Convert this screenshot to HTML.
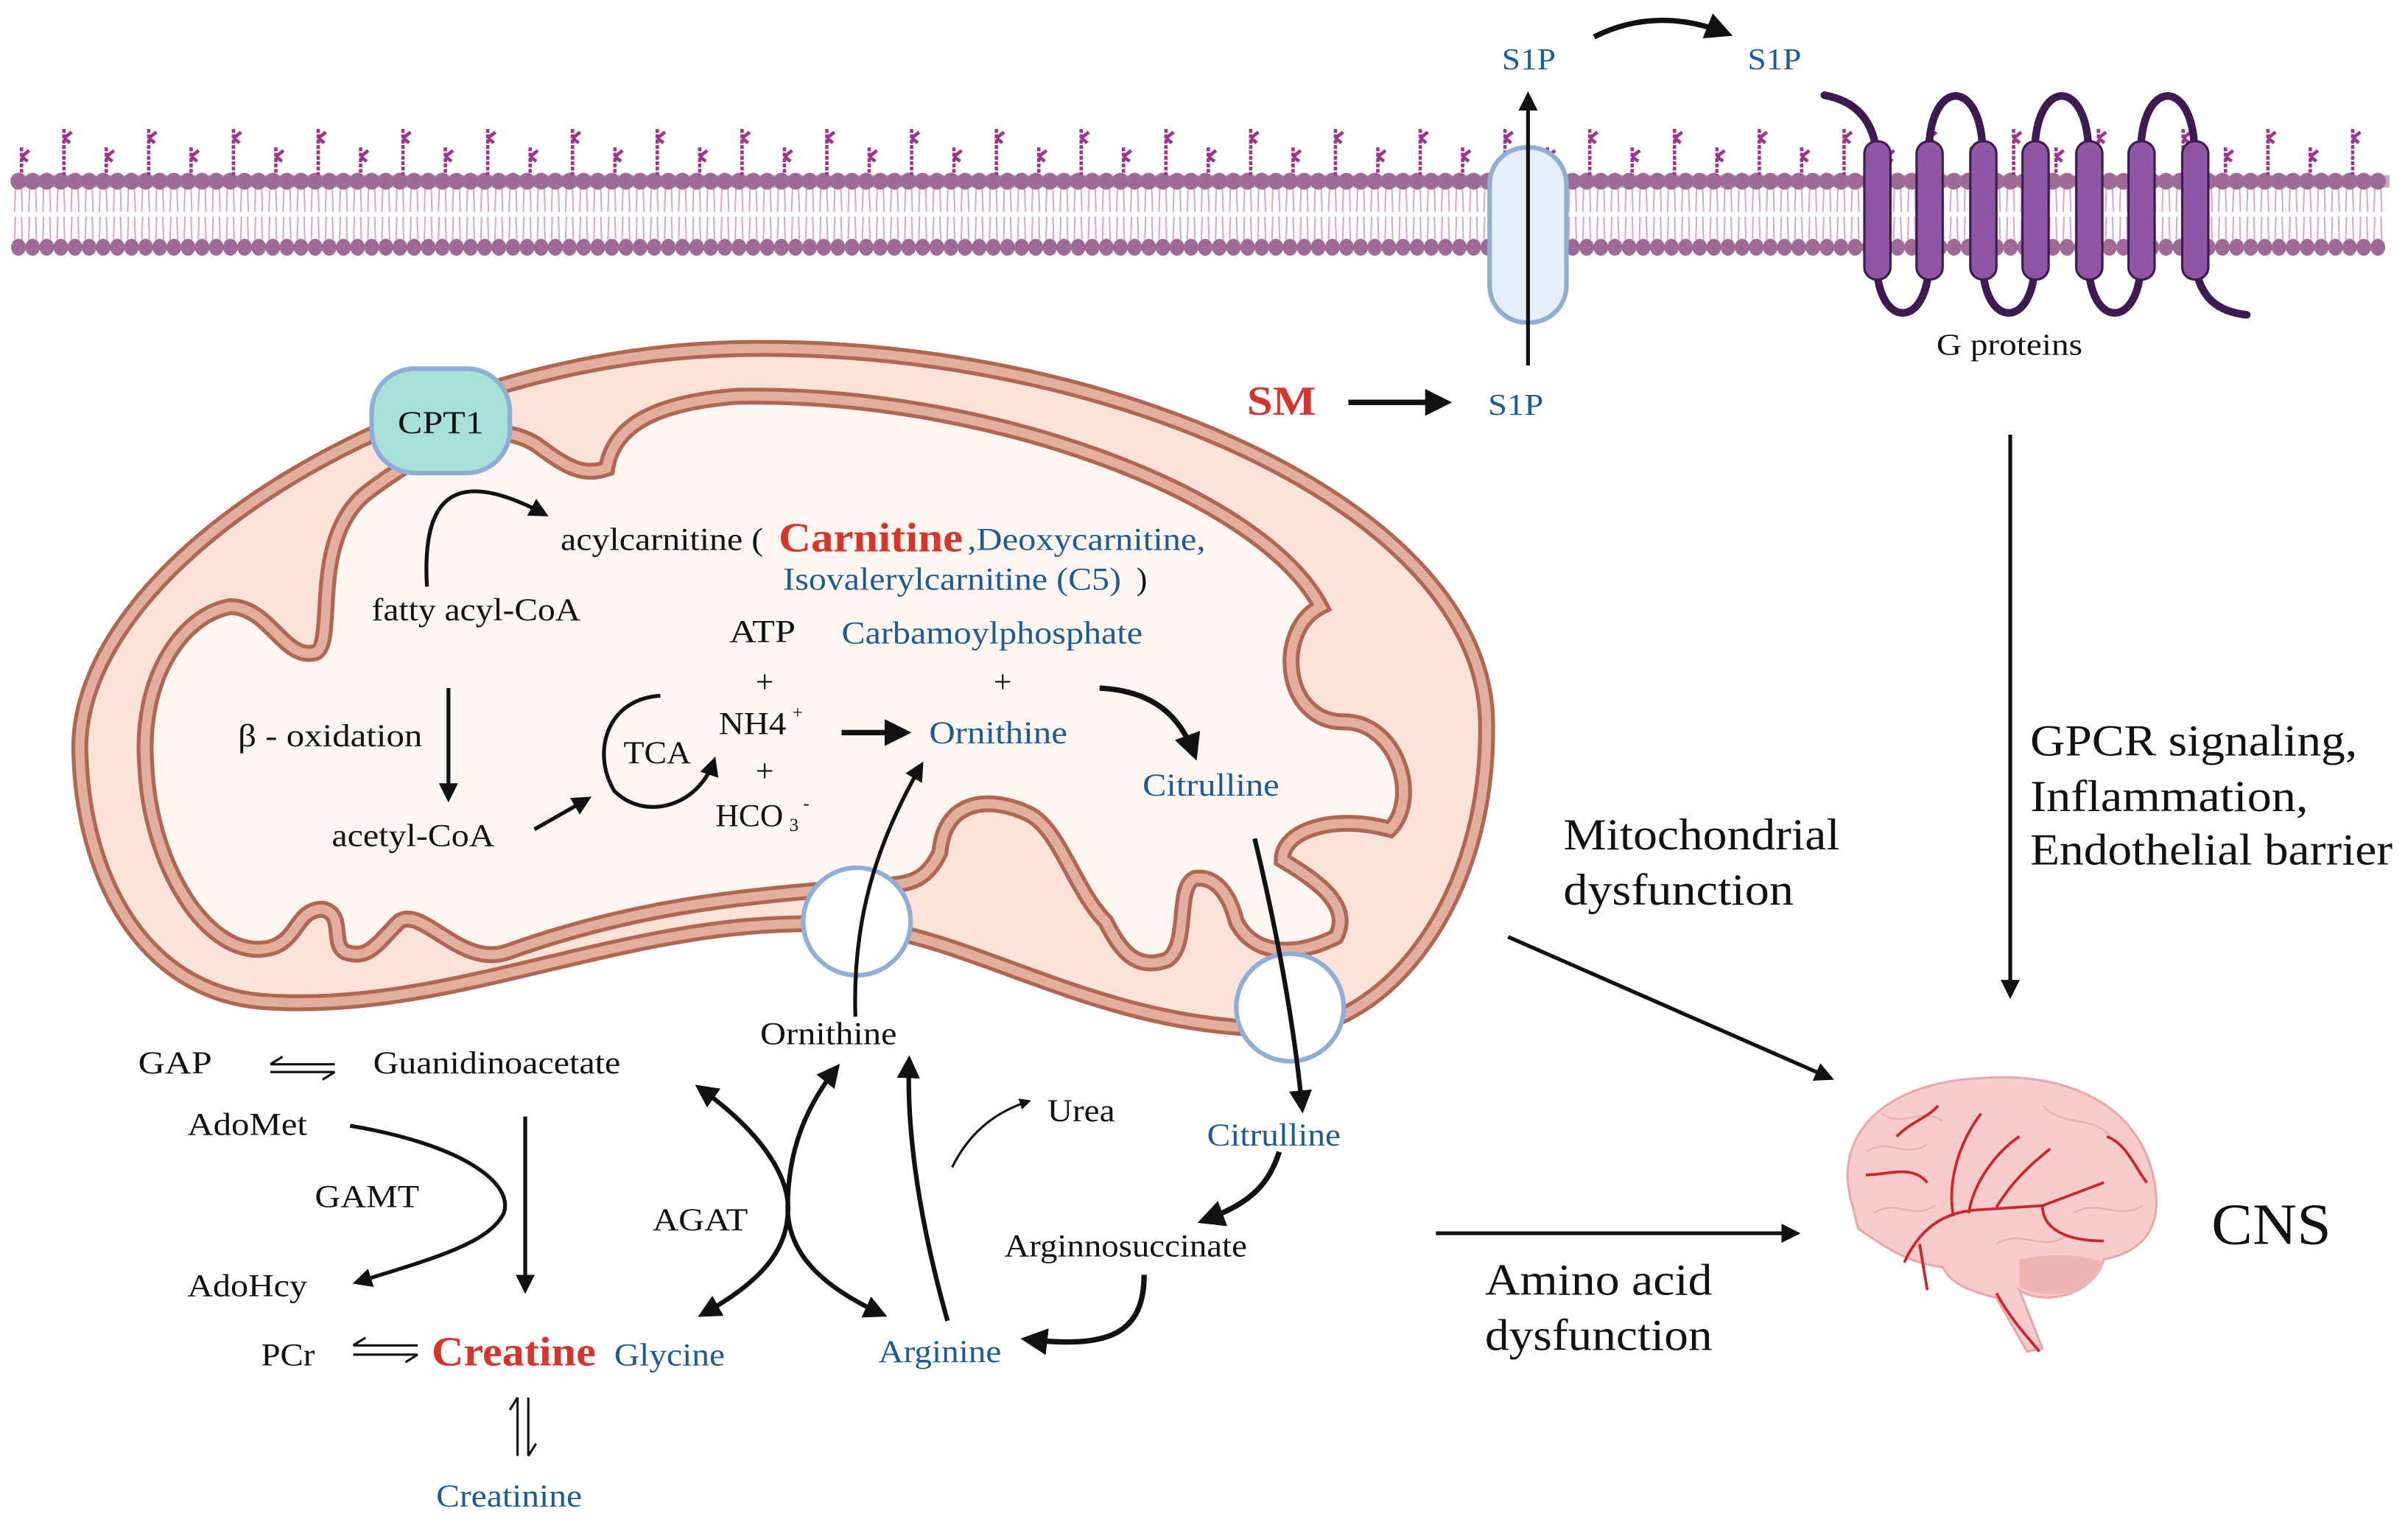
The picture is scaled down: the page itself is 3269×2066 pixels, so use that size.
<!DOCTYPE html>
<html><head><meta charset="utf-8"><style>
html,body{margin:0;padding:0;background:#fff;width:3269px;height:2066px;overflow:hidden}
svg{display:block}
svg text{font-family:"Liberation Serif","Times New Roman",serif}
.k{fill:#111}.b{fill:#1c5b96}.r{fill:#d8342b;font-weight:bold}
</style></head><body>
<svg id="s" width="3269" height="2066" viewBox="0 0 1568 991" xmlns="http://www.w3.org/2000/svg" font-family="Liberation Serif, serif">
<defs>
<marker id="a" viewBox="0 0 10 10" refX="8" refY="5" markerWidth="5" markerHeight="5" orient="auto-start-reverse"><path d="M0,0L10,5L0,10z" fill="#111"/></marker>
<path id="om" d="M52,490 C48,370 260,232 480,227 C720,222 966,330 968,470 C970,590 900,668 840,670 C720,672 640,612 560,603 C420,590 300,662 170,652 C92,645 54,570 52,490 Z"/>
<path id="im" d="M95,500 C90,440 120,400 150,395 C175,395 185,430 205,425 C220,420 200,350 240,320 C280,290 320,270 350,290 C370,305 380,310 395,305 C400,275 430,262 480,258 C640,255 820,320 860,395 C830,410 835,470 875,470 C910,470 925,520 905,540 C870,530 835,540 835,560 C860,575 880,590 870,610 C840,625 815,620 805,600 C800,580 790,570 778,572 C765,578 775,615 760,625 C740,632 730,620 720,600 C700,580 690,540 670,530 C645,518 615,520 612,555 C600,580 585,575 555,578 C460,585 400,595 330,620 C300,630 275,590 260,600 C245,615 240,625 225,620 C215,615 225,595 210,592 C190,592 195,620 165,618 C130,615 98,560 95,500 Z"/>
</defs>
<g id="mem"></g>
<rect x="970" y="96" width="50" height="114" rx="24" fill="#e6f0fa" stroke="#8eaed6" stroke-width="3"/>
<g fill="none" stroke="#3e1a52" stroke-width="5" stroke-linecap="round">
<path d="M1188,62 C1210,66 1220,80 1222,100"/>
<path d="M1256,100 C1256,50 1291,50 1291,100"/>
<path d="M1325,100 C1325,50 1360,50 1360,100"/>
<path d="M1394,100 C1394,50 1429,50 1429,100"/>
<path d="M1222,170 C1222,215 1256,215 1256,170"/>
<path d="M1291,170 C1291,215 1325,215 1325,170"/>
<path d="M1360,170 C1360,215 1394,215 1394,170"/>
<path d="M1429,170 C1432,195 1445,203 1463,205"/>
</g>
<g fill="#8f56a3" stroke="#3e1a52" stroke-width="1.5">
<rect x="1214" y="92" width="17" height="90" rx="8"/><rect x="1248" y="92" width="17" height="90" rx="8"/><rect x="1283" y="92" width="17" height="90" rx="8"/><rect x="1317" y="92" width="17" height="90" rx="8"/><rect x="1352" y="92" width="17" height="90" rx="8"/><rect x="1386" y="92" width="17" height="90" rx="8"/><rect x="1421" y="92" width="17" height="90" rx="8"/>
</g>
<g lengthAdjust="spacingAndGlyphs">
<text x="1261" y="231" font-size="20" class="k" textLength="95" lengthAdjust="spacingAndGlyphs">G proteins</text>
<text x="978" y="45" font-size="20" class="b" textLength="35" lengthAdjust="spacingAndGlyphs">S1P</text>
<text x="1138" y="45" font-size="20" class="b" textLength="35" lengthAdjust="spacingAndGlyphs">S1P</text>
</g>
<path d="M1038,24 C1070,8 1100,12 1125,22" fill="none" stroke="#111" stroke-width="3.5" marker-end="url(#a)"/>
<line x1="995" y1="238" x2="995" y2="62" stroke="#111" stroke-width="2.5" marker-end="url(#a)"/>

<use href="#om" fill="#fbe3da" stroke="#b06650" stroke-width="11"/>
<use href="#om" fill="none" stroke="#e2ae9e" stroke-width="6"/>
<use href="#im" fill="#fff5f1" stroke="#b06650" stroke-width="11"/>
<use href="#im" fill="none" stroke="#e2ae9e" stroke-width="6"/>
<rect x="242" y="240" width="90" height="68" rx="28" fill="#a6e0d9" stroke="#8eaed6" stroke-width="3"/>
<text x="259" y="282" font-size="21" class="k" textLength="56" lengthAdjust="spacingAndGlyphs">CPT1</text>
<circle cx="558" cy="600" r="35" fill="#fff" stroke="#8eaed6" stroke-width="3"/>
<circle cx="840" cy="656" r="35" fill="#fff" stroke="#8eaed6" stroke-width="3"/>

<g font-size="21">
<text x="365" y="358" class="k" textLength="132" lengthAdjust="spacingAndGlyphs">acylcarnitine (</text>
<text x="507" y="359" font-size="27" class="r" textLength="120" lengthAdjust="spacingAndGlyphs">Carnitine</text>
<text x="630" y="358" class="b" textLength="155" lengthAdjust="spacingAndGlyphs">,Deoxycarnitine,</text>
<text x="510" y="384" class="b" textLength="220" lengthAdjust="spacingAndGlyphs">Isovalerylcarnitine (C5)</text><text x="740" y="384" class="k">)</text>
<text x="242" y="404" class="k" textLength="136" lengthAdjust="spacingAndGlyphs">fatty acyl-CoA</text>
<text x="475" y="418" class="k" textLength="43" lengthAdjust="spacingAndGlyphs">ATP</text>
<text x="548" y="419" class="b" textLength="196" lengthAdjust="spacingAndGlyphs">Carbamoylphosphate</text>
<text x="492" y="451" class="k">+</text><text x="647" y="451" class="k">+</text>
<text x="155" y="486" class="k" textLength="120" lengthAdjust="spacingAndGlyphs">β - oxidation</text>
<text x="468" y="478" class="k" textLength="44" lengthAdjust="spacingAndGlyphs">NH4</text><text x="516" y="468" font-size="12" class="k">+</text>
<text x="605" y="484" class="b" textLength="90" lengthAdjust="spacingAndGlyphs">Ornithine</text>
<text x="406" y="497" class="k" textLength="44" lengthAdjust="spacingAndGlyphs">TCA</text>
<text x="492" y="509" class="k">+</text>
<text x="466" y="538" class="k" textLength="44" lengthAdjust="spacingAndGlyphs">HCO</text><text x="514" y="541" font-size="12" class="k">3</text><text x="523" y="527" font-size="12" class="k">-</text>
<text x="744" y="518" class="b" textLength="89" lengthAdjust="spacingAndGlyphs">Citrulline</text>
<text x="216" y="551" class="k" textLength="106" lengthAdjust="spacingAndGlyphs">acetyl-CoA</text>
<text x="495" y="680" class="k" textLength="89" lengthAdjust="spacingAndGlyphs">Ornithine</text>
<text x="90" y="699" class="k" textLength="48" lengthAdjust="spacingAndGlyphs">GAP</text>
<text x="243" y="699" class="k" textLength="161" lengthAdjust="spacingAndGlyphs">Guanidinoacetate</text>
<text x="122" y="739" class="k" textLength="78" lengthAdjust="spacingAndGlyphs">AdoMet</text>
<text x="682" y="730" class="k" textLength="44" lengthAdjust="spacingAndGlyphs">Urea</text>
<text x="786" y="746" class="b" textLength="87" lengthAdjust="spacingAndGlyphs">Citrulline</text>
<text x="205" y="786" class="k" textLength="68" lengthAdjust="spacingAndGlyphs">GAMT</text>
<text x="425" y="801" class="k" textLength="62" lengthAdjust="spacingAndGlyphs">AGAT</text>
<text x="654" y="818" class="k" textLength="158" lengthAdjust="spacingAndGlyphs">Arginnosuccinate</text>
<text x="122" y="844" class="k" textLength="78" lengthAdjust="spacingAndGlyphs">AdoHcy</text>
<text x="170" y="889" class="k" textLength="35" lengthAdjust="spacingAndGlyphs">PCr</text>
<text x="281" y="889" font-size="27" class="r" textLength="107" lengthAdjust="spacingAndGlyphs">Creatine</text>
<text x="400" y="889" class="b" textLength="72" lengthAdjust="spacingAndGlyphs">Glycine</text>
<text x="572" y="887" class="b" textLength="80" lengthAdjust="spacingAndGlyphs">Arginine</text>
<text x="284" y="981" class="b" textLength="95" lengthAdjust="spacingAndGlyphs">Creatinine</text>
</g>
<text x="812" y="270" font-size="27" class="r" textLength="45" lengthAdjust="spacingAndGlyphs">SM</text>
<text x="969" y="270" font-size="20" class="b" textLength="36" lengthAdjust="spacingAndGlyphs">S1P</text>
<g font-size="29" class="k">
<text x="1322" y="492" textLength="213" lengthAdjust="spacingAndGlyphs">GPCR signaling,</text>
<text x="1322" y="528" textLength="181" lengthAdjust="spacingAndGlyphs">Inflammation,</text>
<text x="1322" y="563" textLength="236" lengthAdjust="spacingAndGlyphs">Endothelial barrier</text>
<text x="1018" y="553" textLength="180" lengthAdjust="spacingAndGlyphs">Mitochondrial</text>
<text x="1018" y="589" textLength="150" lengthAdjust="spacingAndGlyphs">dysfunction</text>
<text x="967" y="843" textLength="148" lengthAdjust="spacingAndGlyphs">Amino acid</text>
<text x="967" y="879" textLength="148" lengthAdjust="spacingAndGlyphs">dysfunction</text>
<text x="1440" y="810" font-size="38" textLength="78" lengthAdjust="spacingAndGlyphs">CNS</text>
</g>

<g fill="none" stroke="#111" stroke-width="2.5" marker-end="url(#a)">
<path d="M278,382 C275,330 290,300 355,335"/>
<path d="M292,448 L292,520"/>
<path d="M348,540 L383,520"/>
<path d="M430,453 C395,455 385,490 400,515 C420,535 455,525 465,495"/>
<path d="M548,477 L590,477" stroke-width="3.5"/>
<path d="M716,448 C755,450 770,470 778,492" stroke-width="3.5"/>
<path d="M557,662 C555,600 570,550 600,498"/>
<path d="M817,546 C830,600 842,660 848,722" stroke-width="3"/>
<path d="M878,262 L942,262" stroke-width="3.5"/>
<path d="M1309,283 L1309,648"/>
<path d="M982,610 L1192,702"/>
<path d="M935,803 L1170,803"/>
<path d="M833,750 C825,775 810,785 783,795" stroke-width="3.5"/>
<path d="M745,830 C745,870 720,878 668,872" stroke-width="3.5"/>
<path d="M228,733 C300,745 335,770 328,790 C318,810 280,820 232,835"/>
<path d="M342,727 L342,840"/>
<path d="M617,860 C600,800 590,740 592,690" stroke-width="3"/>
<path d="M620,760 C630,740 645,725 670,717" stroke-width="1.5"/>
<path d="M455,708 C500,740 515,770 513,790 C515,820 540,840 575,856" stroke-width="3" marker-start="url(#a)"/>
<path d="M457,856 C495,835 512,815 513,790 C512,750 525,720 545,695" stroke-width="3" marker-start="url(#a)"/>
</g>
<g stroke="#111" stroke-width="1.5">
<path d="M176,693 L218,693 M176,698 L218,698 M176,693 L184,688 M218,698 L210,703" fill="none"/>
<path d="M230,876 L272,876 M230,882 L272,882 M230,876 L238,871 M272,882 L264,887" fill="none"/>
<path d="M337,910 L337,948 M344,910 L344,948 M337,910 L332,918 M344,948 L349,940" fill="none"/>
</g>

<g>
<path d="M1205,780 C1195,740 1225,705 1290,702 C1340,698 1390,715 1402,765 C1410,800 1395,815 1370,820 C1362,845 1330,850 1315,840 L1330,878 L1320,880 L1300,845 C1280,840 1270,835 1265,825 C1240,822 1225,810 1210,800 Z" fill="#f6cccc" stroke="#eaa7a7" stroke-width="1.5"/>
<path d="M1315,820 C1340,815 1360,818 1370,822 C1365,842 1335,848 1315,838 Z" fill="#eeb5b5"/>
<g fill="none" stroke="#eab0b0" stroke-width="1.2">
<path d="M1215,750 C1230,740 1240,755 1255,745 M1225,725 C1240,735 1250,720 1265,730 M1330,720 C1345,735 1360,725 1375,740 M1350,790 C1365,780 1380,795 1395,785 M1220,790 C1235,780 1245,795 1260,785 M1300,810 C1315,800 1330,815 1345,805"/>
</g>
<g fill="none" stroke="#d0232a" stroke-width="1.8">
<path d="M1240,822 C1250,800 1265,790 1285,788 L1330,785 L1370,770"/>
<path d="M1272,792 C1268,770 1275,745 1290,725 M1282,790 C1285,770 1300,750 1315,740 M1300,786 C1310,770 1320,760 1335,748"/>
<path d="M1330,785 C1330,800 1345,808 1370,808 M1250,810 L1255,840 M1300,842 C1310,860 1320,870 1328,880"/>
<path d="M1215,765 C1230,765 1245,758 1255,770 M1235,740 C1245,730 1255,728 1262,720 M1372,740 C1385,745 1390,760 1398,770"/>
</g>
</g>
</svg>
<script>
(function(){
var g=document.getElementById('mem'),h='';
for(var x=12;x<1556;x+=9.2){
h+='<ellipse cx="'+x+'" cy="118" rx="5.2" ry="5.5" fill="#a06a97"/>';
h+='<ellipse cx="'+x+'" cy="161" rx="4.8" ry="5.5" fill="#a06a97"/>';
h+='<path d="M'+(x-2)+',123 L'+(x-2.5)+',138 M'+(x+2)+',123 L'+(x+2.5)+',138 M'+(x-2)+',141 L'+(x-2.5)+',156 M'+(x+2)+',141 L'+(x+2.5)+',156" stroke="#dca6d2" stroke-width="1" fill="none"/>';
}
h+='<rect x="8" y="114" width="1548" height="8" fill="#a06a97" opacity="0.6"/>';
var i=0;
for(var x=14;x<1545;x+=27.6){
var top=(i%2==0)?96:84;i++;
h+='<line x1="'+x+'" y1="'+top+'" x2="'+x+'" y2="114" stroke="#a2338a" stroke-width="2.2" stroke-dasharray="2.5,1"/>';
h+='<path d="M'+x+','+(top+6)+' L'+(x+5)+','+(top+2)+' M'+x+','+(top+6)+' L'+(x+4)+','+(top+9)+'" stroke="#a2338a" stroke-width="2.2"/>';
}
g.innerHTML=h;
})();
</script>
</body></html>
